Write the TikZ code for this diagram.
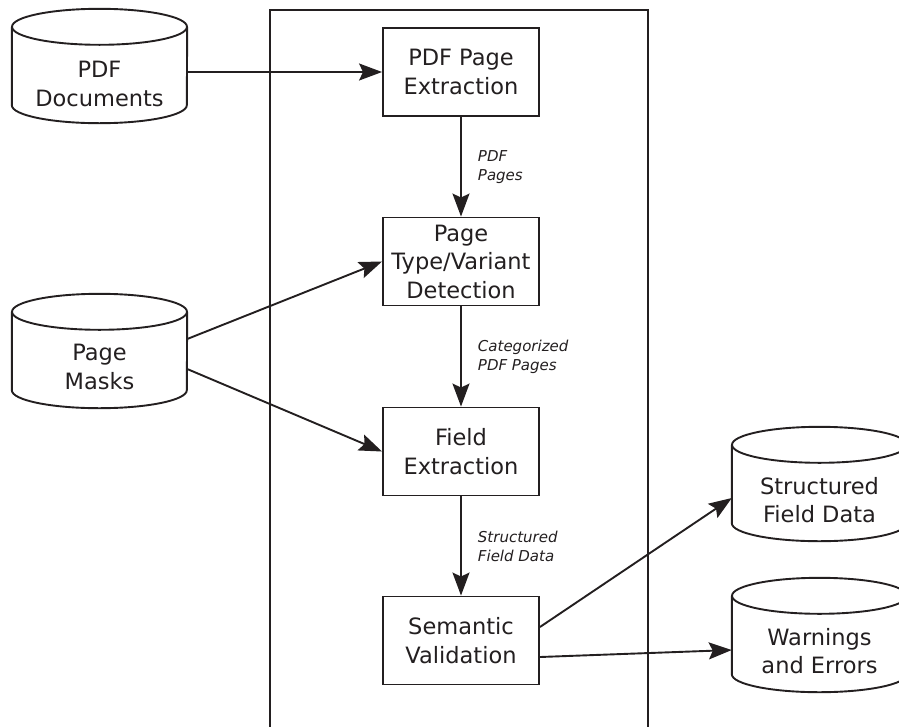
\documentclass[tikz,border=0pt]{standalone}
\usepackage{fontspec}
\setmainfont{DejaVu Sans}
\usetikzlibrary{arrows.meta,calc}

\definecolor{ink}{HTML}{231F20}

% draws a database cylinder around a (draw=none) node of full cylinder size
\newcommand\drawdb[1]{%
  \draw[wire] ([yshift=-18pt]#1.north west) -- ([yshift=18pt]#1.south west)
    arc[start angle=180,end angle=360,x radius=87.5pt,y radius=18pt]
    -- ([yshift=-18pt]#1.north east);
  \draw[wire] ([yshift=-18pt]#1.north) ellipse[x radius=87.5pt,y radius=18pt];
}

\begin{document}
\begin{tikzpicture}[x=1pt,y=-1pt,
  wire/.style={draw=ink,line width=1.9pt},
  flow/.style={wire,-{Stealth[length=23pt,width=17pt,inset=4pt]}},
  stage/.style={wire,fill=white,minimum width=156pt,minimum height=88pt,
    inner sep=0pt,align=center,text=ink,font=\fontsize{22.5}{28.5}\selectfont},
  dbshape/.style={draw=none,minimum width=175pt,minimum height=114pt,inner sep=0pt},
  dbtext/.style={align=center,text=ink,inner sep=0pt,font=\fontsize{22.5}{28.5}\selectfont},
  flowlabel/.style={anchor=west,inner sep=0pt,align=left,text=ink,
    font=\fontsize{15}{19}\selectfont\itshape,xshift=16pt}]

\clip (0,0) rectangle (899,726);
\useasboundingbox (0,0) rectangle (899,726);

% pipeline frame
\draw[wire] (270,10) rectangle (648,780);

% data stores
\node[dbshape] (docs) at (99.5,66) {};
\drawdb{docs}
\node[dbtext] (docslabel) at (99.5,84) {PDF\\Documents};

\node[dbshape] (masks) at (99.5,351) {};
\drawdb{masks}
\node[dbtext] (maskslabel) at (99.5,367) {Page\\Masks};

\node[dbshape] (fields) at (819.5,484) {};
\drawdb{fields}
\node[dbtext] (fieldslabel) at (819.5,500) {Structured\\Field Data};

\node[dbshape] (warn) at (819.5,635) {};
\drawdb{warn}
\node[dbtext] (warnlabel) at (819.5,651) {Warnings\\and Errors};

% processing stages
\node[stage] (extract) at (461,72) {PDF Page\\Extraction};
\node[stage] (detect) at (461,261.5) {Page\\Type/Variant\\Detection};
\node[stage] (field) at (461,451.5) {Field\\Extraction};
\node[stage] (valid) at (461,640.5) {Semantic\\Validation};

% connectors
\draw[flow] (docs.east |- extract.west) -- (extract.west);
\draw[flow] ($(masks.east)+(0,-12)$) -- (detect.west);
\draw[flow] ($(masks.east)+(0,18)$) -- (field.west);

\draw[flow] (extract) -- node[flowlabel] {PDF\\Pages} (detect);
\draw[flow] (detect) -- node[flowlabel] {Categorized\\PDF Pages} (field);
\draw[flow] (field) -- node[flowlabel] {Structured\\Field Data} (valid);

\draw[flow] ($(valid.east)+(0,-13.5)$) -- ($(fields.west)+(0,14)$);
\draw[flow] ($(valid.east)+(0,16.5)$) -- ($(warn.west)+(0,15)$);
\end{tikzpicture}
\end{document}
